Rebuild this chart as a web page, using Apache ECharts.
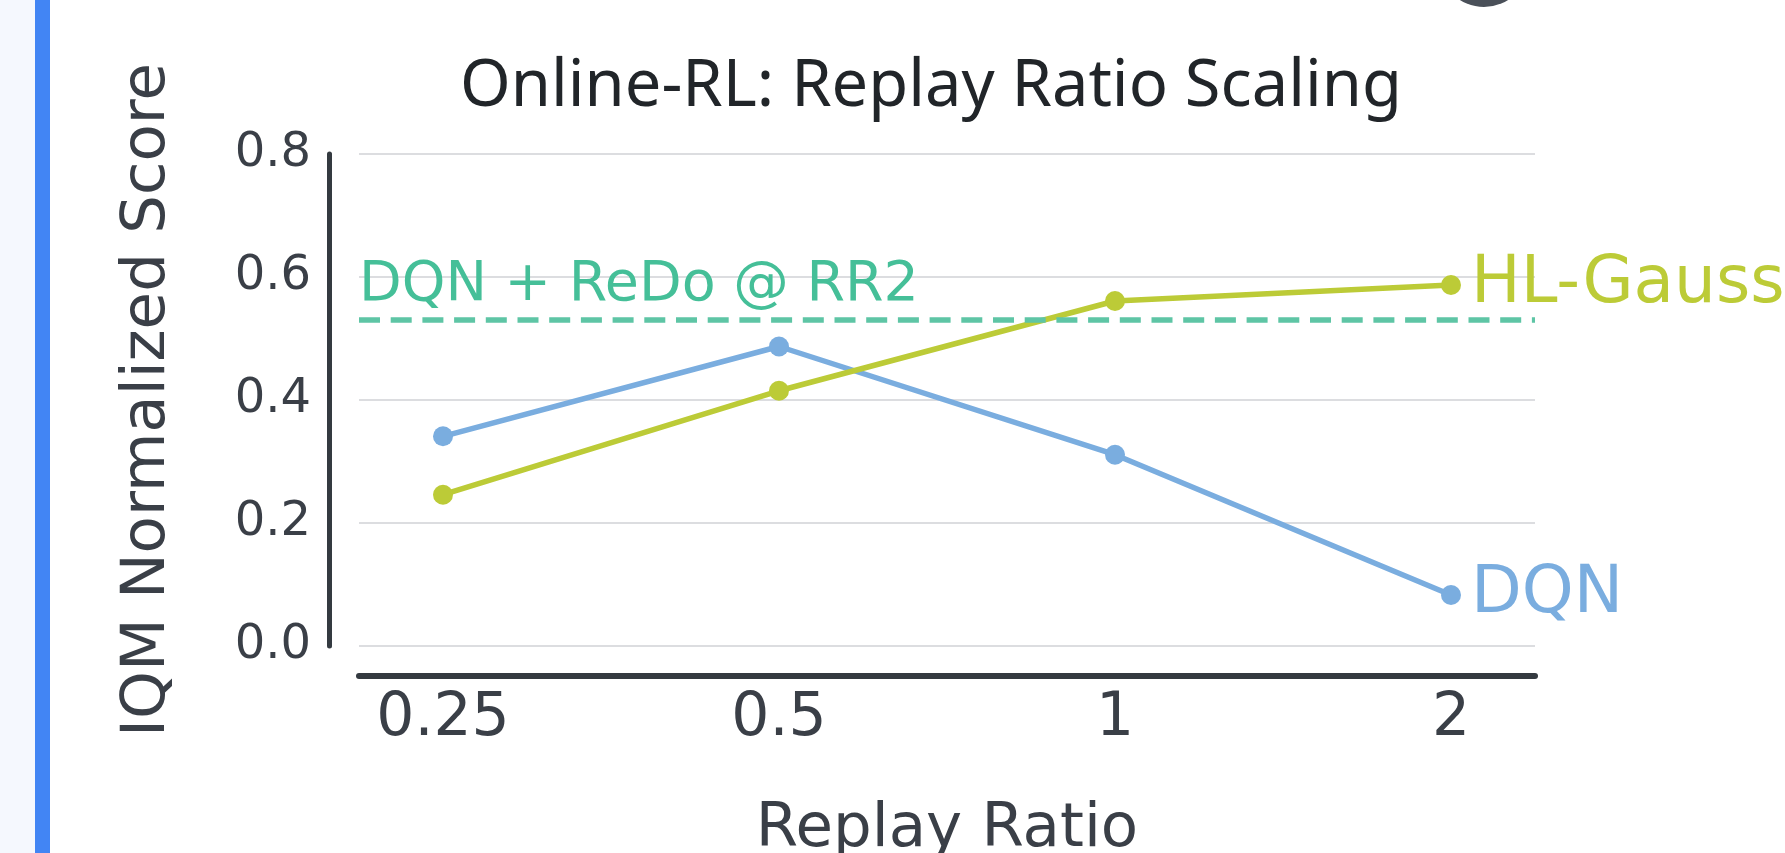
<!DOCTYPE html>
<html>
<head>
<meta charset="utf-8">
<title>Online-RL: Replay Ratio Scaling</title>
<script src="https://cdn.jsdelivr.net/npm/echarts@6/dist/echarts.min.js"></script>
<style>
  html, body { margin: 0; padding: 0; background: #fff; }
  #main { width: 1785px; height: 853px; }
</style>
</head>
<body>
<div id="main"></div>
<script>
// replay ratios (x categories) and IQM scores
var categories = ['0.25', '0.5', '1', '2']
var dqnScores = [0.341, 0.487, 0.311, 0.083]
var hlGaussScores = [0.246, 0.415, 0.561, 0.587]
var redoBaseline = 0.529
var yTicks = [0, 0.2, 0.4, 0.6, 0.8]

var axisDark = '#343a40'
var textDark = '#3a3f47'
var blue = '#7aaddf'
var lime = '#bccb37'
var teal = '#5ec5a5'

function toPoints(values) {
  return values.map(function (v, i) { return [i, v] })
}

var chart = echarts.init(document.getElementById('main'))

var option = {
  animation: false,
  textStyle: { fontFamily: 'DejaVu Sans' },
  title: {
    text: 'Online-RL: Replay Ratio Scaling',
    left: 926,
    textAlign: 'center',
    top: 50,
    textStyle: {
      fontFamily: 'Noto Sans',
      fontWeight: 'normal',
      fontSize: 65,
      color: '#212529'
    }
  },
  grid: {
    left: 359,
    right: 250,
    top: 154,
    bottom: 207,
    containLabel: false,
    outerBoundsMode: 'none'
  },
  xAxis: {
    type: 'value',
    min: -0.25,
    max: 3.25,
    offset: 30,
    name: 'Replay Ratio',
    nameLocation: 'middle',
    nameGap: 124,
    nameTextStyle: { fontSize: 61, color: textDark, fontFamily: 'DejaVu Sans' },
    axisLine: { show: true, onZero: false, lineStyle: { color: axisDark, width: 6 } },
    axisTick: { show: false },
    splitLine: { show: false },
    axisLabel: {
      customValues: categories.map(function (c, i) { return i }),
      formatter: function (v) { return categories[Math.round(v)] },
      fontSize: 60,
      color: textDark,
      margin: 13
    }
  },
  yAxis: {
    type: 'value',
    min: yTicks[0],
    max: yTicks[yTicks.length - 1],
    interval: 0.2,
    offset: 30,
    name: 'IQM Normalized Score',
    nameLocation: 'middle',
    nameGap: 150,
    nameTextStyle: { fontSize: 61, color: textDark, fontFamily: 'DejaVu Sans' },
    axisLine: { show: true, onZero: false, lineStyle: { color: axisDark, width: 5 } },
    axisTick: { show: false },
    axisLabel: {
      fontSize: 48,
      color: textDark,
      margin: 18,
      formatter: function (v) { return v.toFixed(1) }
    },
    splitLine: { show: true, lineStyle: { color: '#dcdde0', width: 2 } }
  },
  series: [
    {
      name: 'DQN',
      type: 'line',
      data: toPoints(dqnScores),
      symbol: 'circle',
      symbolSize: 20,
      color: blue,
      lineStyle: { width: 5.5, color: blue },
      itemStyle: { color: blue },
      endLabel: {
        show: true,
        formatter: '{a}',
        fontSize: 66,
        color: blue,
        distance: 20
      },
      markLine: {
        silent: true,
        symbol: 'none',
        lineStyle: { type: [21, 10.7], width: 5.5, color: teal },
        label: {
          show: true,
          position: 'insideStartTop',
          formatter: 'DQN + ReDo @ RR2',
          fontSize: 55.5,
          color: '#45bf98',
          distance: [0, 6]
        },
        data: [{ yAxis: redoBaseline }]
      },
      z: 2
    },
    {
      name: 'HL-Gauss',
      type: 'line',
      data: toPoints(hlGaussScores),
      symbol: 'circle',
      symbolSize: 20,
      color: lime,
      lineStyle: { width: 5.5, color: lime },
      itemStyle: { color: lime },
      endLabel: {
        show: true,
        formatter: '{a}',
        fontSize: 66,
        color: lime,
        distance: 20
      },
      z: 3
    }
  ],
  graphic: [
    // page chrome around the figure
    { type: 'rect', left: 0, top: 0, shape: { width: 35, height: 853 }, style: { fill: '#f5f8fe' }, z: -10 },
    { type: 'rect', left: 35, top: 0, shape: { width: 15, height: 853 }, style: { fill: '#4285f4' }, z: -9 },
    { type: 'circle', shape: { cx: 1484, cy: -38, r: 45 }, style: { fill: '#4a5059' }, z: -9 }
  ]
}

chart.setOption(option)
</script>
</body>
</html>
